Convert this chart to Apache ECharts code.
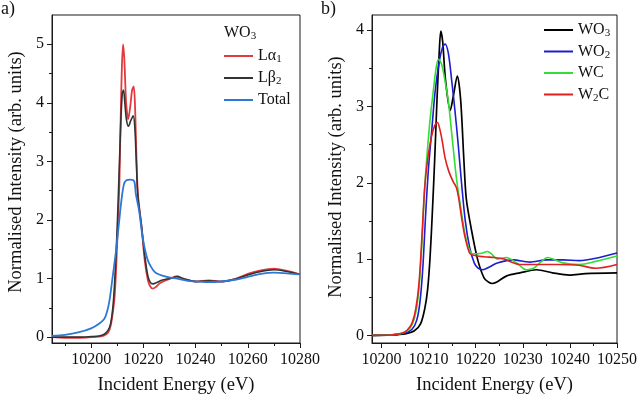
<!DOCTYPE html>
<html><head><meta charset="utf-8">
<script src="https://cdn.jsdelivr.net/npm/echarts@6/dist/echarts.min.js"></script>
<style>html,body{margin:0;padding:0;background:#fff}#c{width:640px;height:400px}</style>
</head><body><div id="c"></div>
<script>
// ---------- Panel a) data: [energy eV, normalised intensity] ----------
const aLalpha1 = [[10185,0.0],[10190,-0.01],[10195,-0.01],[10200,0.0],[10203,0.01],[10205,0.03],[10206.5,0.08],[10207.5,0.2],[10208.3,0.42],[10209,0.7],[10209.6,1.2],[10210.2,1.9],[10210.8,2.6],[10211.2,3.5],[10211.7,4.5],[10212.2,5.0],[10212.7,4.75],[10213.4,4.0],[10214.2,3.72],[10215,3.95],[10215.7,4.22],[10216.3,4.28],[10216.8,3.95],[10217.3,3.15],[10217.9,2.45],[10219.3,1.88],[10220.5,1.32],[10221.7,0.98],[10222.6,0.87],[10223.6,0.83],[10224.6,0.85],[10226.3,0.92],[10229.8,0.99],[10232.9,1.04],[10235,1.0],[10240,0.95],[10245,0.97],[10250,0.95],[10255,0.99],[10260,1.08],[10265,1.14],[10270,1.17],[10275,1.13],[10280,1.07]];
const aLbeta2 = [[10185,0.0],[10190,0.0],[10195,0.0],[10200,0.01],[10203,0.02],[10205,0.05],[10206.5,0.12],[10207.5,0.24],[10208.5,0.6],[10209.3,1.2],[10210,1.9],[10210.7,2.8],[10211.3,3.6],[10211.9,4.15],[10212.4,4.22],[10212.9,4.0],[10213.5,3.72],[10214.3,3.6],[10215.2,3.7],[10216.1,3.78],[10216.7,3.6],[10217.3,3.0],[10217.9,2.4],[10219.3,1.9],[10220.5,1.4],[10221.7,1.05],[10222.7,0.93],[10223.7,0.91],[10225,0.93],[10227,0.97],[10230,1.0],[10233,1.03],[10236,0.99],[10240,0.95],[10245,0.96],[10250,0.95],[10255,0.99],[10260,1.06],[10265,1.12],[10270,1.15],[10275,1.12],[10280,1.07]];
const aTotal = [[10185,0.02],[10190,0.04],[10195,0.08],[10200,0.15],[10203,0.23],[10205,0.31],[10206,0.42],[10207,0.62],[10208,0.95],[10209.4,1.43],[10210.5,1.88],[10211.5,2.3],[10212.5,2.6],[10213.5,2.68],[10215,2.69],[10216.5,2.66],[10217.1,2.45],[10218.4,2.15],[10219.7,1.71],[10221,1.42],[10222.2,1.26],[10224.7,1.1],[10229.8,1.02],[10233,1.0],[10237,0.96],[10240,0.95],[10245,0.94],[10250,0.95],[10255,0.98],[10260,1.03],[10265,1.08],[10270,1.1],[10275,1.09],[10280,1.07]];

// ---------- Panel b) data ----------
const bWO3 = [[10198,0],[10202,0.005],[10205,0.02],[10207,0.06],[10208.3,0.15],[10209.2,0.35],[10209.8,0.6],[10210.3,1.0],[10210.8,1.6],[10211.3,2.3],[10211.8,3.1],[10212.3,3.75],[10212.6,3.99],[10213,3.85],[10213.6,3.35],[10214.6,2.95],[10215.3,3.15],[10216.1,3.4],[10216.8,3.1],[10217.5,2.3],[10218,1.8],[10219,1.42],[10220.4,1.0],[10221.8,0.75],[10222.7,0.7],[10223.5,0.68],[10224.5,0.7],[10226.6,0.78],[10229.4,0.82],[10232.9,0.86],[10236.3,0.82],[10239.9,0.79],[10243.3,0.81],[10250,0.82]];
const bWO2 = [[10198,0],[10202,0.005],[10205,0.03],[10206.5,0.08],[10207.5,0.2],[10208.2,0.45],[10208.8,0.9],[10209.4,1.6],[10210,2.2],[10210.7,2.7],[10211.4,3.2],[10212.3,3.6],[10213,3.78],[10213.5,3.82],[10214.2,3.7],[10214.9,3.35],[10215.6,2.95],[10216.3,2.5],[10217,2.0],[10217.8,1.5],[10218.7,1.16],[10219.7,0.95],[10220.5,0.88],[10221.5,0.86],[10223,0.9],[10224.6,0.95],[10228,0.99],[10231.5,0.96],[10235,0.99],[10238.5,0.99],[10242,0.98],[10245.5,1.01],[10250,1.08]];
const bWC = [[10198,0],[10202,0.005],[10204.5,0.03],[10206,0.09],[10207,0.22],[10207.8,0.5],[10208.5,1.1],[10209.2,1.95],[10210.2,2.75],[10211,3.2],[10211.6,3.5],[10212.1,3.62],[10212.8,3.55],[10213.6,3.3],[10214.2,3.07],[10215,2.6],[10215.9,2.07],[10216.6,1.77],[10217.7,1.34],[10218.5,1.15],[10219.3,1.07],[10220.5,1.07],[10221.5,1.08],[10222.5,1.1],[10223.5,1.06],[10224.6,1.0],[10226.5,1.02],[10228.7,0.95],[10230.8,0.86],[10232.3,0.88],[10233.8,0.96],[10235.3,1.02],[10236.8,0.99],[10238.5,0.95],[10242,0.93],[10245.5,0.97],[10250,1.04]];
const bW2C = [[10198,0],[10202,0.005],[10204.5,0.03],[10205.5,0.07],[10206.5,0.16],[10207.3,0.35],[10208,0.7],[10208.6,1.3],[10209.2,1.95],[10209.8,2.3],[10210.6,2.6],[10211.3,2.75],[10211.9,2.79],[10212.4,2.7],[10212.9,2.55],[10213.5,2.33],[10214.3,2.15],[10215.2,2.02],[10215.9,1.94],[10216.4,1.8],[10217,1.55],[10217.7,1.3],[10218.7,1.08],[10219.5,1.05],[10221.8,1.03],[10224,1.02],[10226,1.0],[10229.4,0.93],[10232.9,0.93],[10237.3,0.93],[10241.9,0.92],[10245.4,0.88],[10250,0.93]];

// ---------- Tick values ----------
const aXTicks = [10200,10220,10240,10260,10280];
const aXMinor = [10190,10210,10230,10250,10270];
const aYTicks = [0,1,2,3,4,5];
const aYMinor = [0.5,1.5,2.5,3.5,4.5];
const bXTicks = [10200,10210,10220,10230,10240,10250];
const bXMinor = [10205,10215,10225,10235,10245];
const bYTicks = [0,1,2,3,4];
const bYMinor = [0.5,1.5,2.5,3.5];

const aNames = ['Lα1','Lβ2','Total'];
const bNames = ['WO3','WO2','WC','W2C'];
const xTitle = 'Incident Energy (eV)';
const yTitle = 'Normalised Intensity (arb. units)';

const FONT = 'Liberation Serif';
const AX = '#1a1a1a';
const sub = {fontFamily: FONT, fontSize: 11, lineHeight: 8, verticalAlign: 'bottom', color: '#111'};

function mainX(grid, min, max, ticks) {
  return {gridIndex: grid, type: 'value', min, max, position: 'bottom',
    axisLine: {show: true, onZero: false, lineStyle: {color: AX, width: 1}},
    axisTick: {show: true, customValues: ticks, length: 5, lineStyle: {color: AX, width: 1}},
    axisLabel: {customValues: ticks, formatter: v => String(v), margin: 9, fontFamily: FONT, fontSize: 16, color: '#111'},
    splitLine: {show: false},
    name: xTitle, nameLocation: 'middle', nameGap: 33,
    nameTextStyle: {fontFamily: FONT, fontSize: 18.5, color: '#111'}};
}
function minorX(grid, min, max, ticks) {
  return {gridIndex: grid, type: 'value', min, max, position: 'bottom',
    axisLine: {show: false, onZero: false},
    axisTick: {show: true, customValues: ticks, length: 3, lineStyle: {color: AX, width: 1}},
    axisLabel: {show: false}, splitLine: {show: false}};
}
function mainY(grid, min, max, ticks, pad) {
  return {gridIndex: grid, type: 'value', min, max, position: 'left',
    axisLine: {show: true, onZero: false, lineStyle: {color: AX, width: 1}},
    axisTick: {show: true, customValues: ticks, length: 5, lineStyle: {color: AX, width: 1}},
    axisLabel: {customValues: ticks, formatter: v => String(v), margin: 8, fontFamily: FONT, fontSize: 16, color: '#111'},
    splitLine: {show: false},
    name: yTitle, nameLocation: 'middle', nameGap: 26,
    nameTextStyle: {fontFamily: FONT, fontSize: 18.5, color: '#111', padding: [0, 0, 0, pad]}};
}
function minorY(grid, min, max, ticks) {
  return {gridIndex: grid, type: 'value', min, max, position: 'left',
    axisLine: {show: false, onZero: false},
    axisTick: {show: true, customValues: ticks, length: 3, lineStyle: {color: AX, width: 1}},
    axisLabel: {show: false}, splitLine: {show: false}};
}
function line(name, data, color, w, xi, yi) {
  return {type: 'line', name, data, xAxisIndex: xi, yAxisIndex: yi, symbol: 'none', smooth: 0.3,
    lineStyle: {color, width: w}, itemStyle: {color}, z: 3};
}
const fmt = n => n.replace(/(\d)/g, '{s|$1}');
function legend(names, left, top, gap) {
  return {data: names, orient: 'vertical', left, top, padding: 0, icon: 'rect', itemWidth: 29, itemHeight: 2, itemGap: gap,
    formatter: fmt,
    textStyle: {fontFamily: FONT, fontSize: 16, lineHeight: 18, color: '#111', rich: {s: sub}}};
}

const chart = echarts.init(document.getElementById('c'));
chart.setOption({
  animation: false,
  backgroundColor: '#fff',
  title: [
    {text: 'a)', left: 1, top: 0, padding: 0, textStyle: {fontFamily: FONT, fontSize: 18, fontWeight: 'normal', color: '#111'}},
    {text: 'b)', left: 321, top: 0, padding: 0, textStyle: {fontFamily: FONT, fontSize: 18, fontWeight: 'normal', color: '#111'}},
    {text: 'WO{s|3}', left: 224, top: 24, padding: 0, textStyle: {fontFamily: FONT, fontSize: 16, lineHeight: 18, fontWeight: 'normal', color: '#111', rich: {s: sub}}}
  ],
  legend: [legend(aNames, 224, 47, 4), legend(bNames, 544, 21, 3.5)],
  grid: [
    {left: 52, right: 340, top: 15, bottom: 53, show: true, borderColor: AX, borderWidth: 1, backgroundColor: 'transparent'},
    {left: 372, right: 20, top: 15, bottom: 53, show: true, borderColor: AX, borderWidth: 1, backgroundColor: 'transparent'}
  ],
  xAxis: [mainX(0, 10185, 10280, aXTicks), minorX(0, 10185, 10280, aXMinor),
          mainX(1, 10198, 10250, bXTicks), minorX(1, 10198, 10250, bXMinor)],
  yAxis: [mainY(0, -0.1, 5.5, aYTicks, 14), minorY(0, -0.1, 5.5, aYMinor),
          mainY(1, -0.1, 4.2, bYTicks, 4), minorY(1, -0.1, 4.2, bYMinor)],
  series: [
    line(aNames[0], aLalpha1, '#e23a3e', 1.8, 0, 0),
    line(aNames[1], aLbeta2, '#333333', 1.6, 0, 0),
    line(aNames[2], aTotal, '#2b78d6', 1.8, 0, 0),
    line(bNames[0], bWO3, '#000000', 1.7, 2, 2),
    line(bNames[1], bWO2, '#1c1cd0', 1.6, 2, 2),
    line(bNames[2], bWC, '#33dd33', 1.6, 2, 2),
    line(bNames[3], bW2C, '#e01f1f', 1.6, 2, 2)
  ]
});
</script></body></html>
